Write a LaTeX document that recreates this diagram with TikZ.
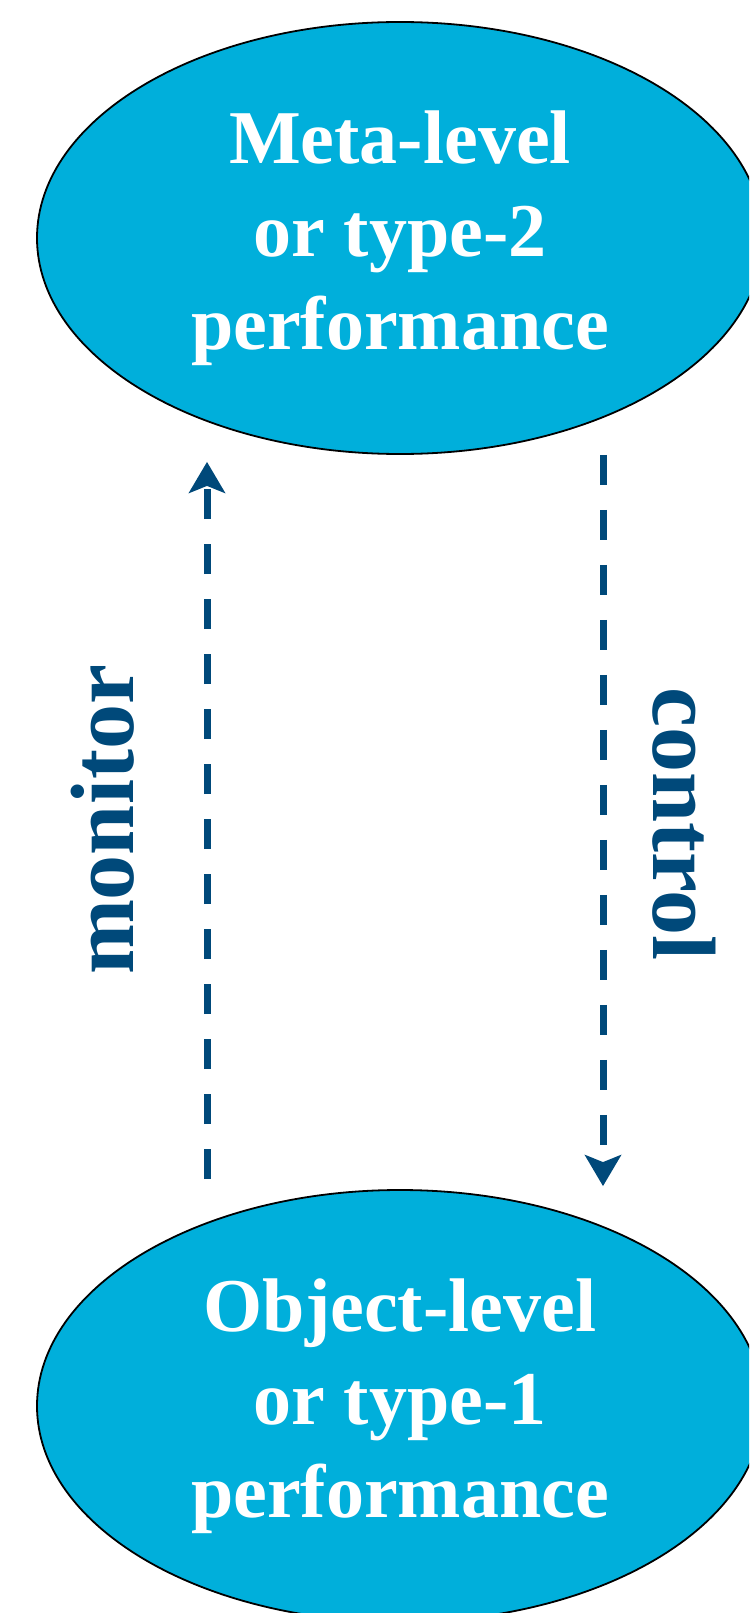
\documentclass[tikz,border=0pt]{standalone}
\usepackage{fontspec}
\setmainfont{Liberation Serif}
\usetikzlibrary{shapes.geometric,arrows.meta}
\definecolor{cyanfill}{RGB}{0,175,219}
\definecolor{navy}{RGB}{0,73,122}
\begin{document}
\begin{tikzpicture}[x=1pt,y=-1pt,
  level/.style={ellipse, draw=black, line width=1.8pt, fill=cyanfill,
    minimum width=726pt, minimum height=432pt, inner sep=0pt, text=white,
    font=\fontsize{76}{93}\selectfont\bfseries, align=center},
  flow/.style={draw=navy, line width=7pt, dash pattern=on 30pt off 25pt,
    -{Stealth[length=31pt,width=36pt,inset=7pt]}},
  lab/.style={text=navy, font=\fontsize{90}{100}\selectfont\bfseries,
    inner sep=0pt, anchor=base}]
\useasboundingbox (0,0) rectangle (749,1613);
\clip (0,0) rectangle (749,1613);
\node[level] (meta) at (400,238) {Meta-level\\or type-2\\performance};
\node[level] (obj) at (400,1406) {Object-level\\or type-1\\performance};
\draw[flow, shorten <=10pt, shorten >=7pt] ([xshift=-193pt]obj.north) -- ([xshift=-193pt]meta.south);
\draw[flow, shorten >=3pt] ([xshift=203pt]meta.south) -- ([xshift=203pt]obj.north);
\node[lab, rotate=90] (mon) at (133,820) {monitor};
\node[lab, rotate=-90] (ctl) at (653,824) {control};
\end{tikzpicture}
\end{document}
